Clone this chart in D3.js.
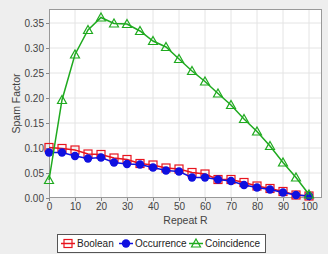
<!DOCTYPE html>
<html>
<head>
<meta charset="utf-8">
<script src="https://cdn.jsdelivr.net/npm/d3@7"></script>
<style>
  html, body { margin: 0; padding: 0; background: #eeeeee; }
  svg { display: block; font-family: "Liberation Sans", Arial, sans-serif; }
</style>
</head>
<body>
<div id="chart"></div>
<script>
const repeatR = [0, 5, 10, 15, 20, 25, 30, 35, 40, 45, 50, 55, 60, 65, 70, 75, 80, 85, 90, 95, 100];
const booleanVals = [0.101, 0.099, 0.096, 0.088, 0.087, 0.080, 0.077, 0.069, 0.066, 0.060, 0.058, 0.051, 0.048, 0.037, 0.037, 0.031, 0.024, 0.019, 0.013, 0.006, 0.004];
const occurrenceVals = [0.091, 0.091, 0.084, 0.079, 0.081, 0.071, 0.068, 0.067, 0.061, 0.055, 0.053, 0.041, 0.041, 0.037, 0.034, 0.026, 0.021, 0.017, 0.011, 0.006, 0.004];
const coincidenceVals = [0.036, 0.196, 0.287, 0.336, 0.361, 0.349, 0.348, 0.334, 0.314, 0.302, 0.278, 0.254, 0.233, 0.209, 0.186, 0.158, 0.133, 0.104, 0.071, 0.041, 0.007];
const xTicks = [0, 10, 20, 30, 40, 50, 60, 70, 80, 90, 100];
const yTicks = [0, 0.05, 0.10, 0.15, 0.20, 0.25, 0.30, 0.35];

const series = [
  { name: 'Boolean', values: booleanVals, color: '#e8141e', shape: 'square' },
  { name: 'Occurrence', values: occurrenceVals, color: '#1010e0', shape: 'circle' },
  { name: 'Coincidence', values: coincidenceVals, color: '#1faa1f', shape: 'triangle' },
];

const width = 328, height = 254;
const plot = { left: 49, right: 322, top: 9, bottom: 198 };

const svg = d3.select('#chart').append('svg')
  .attr('width', width)
  .attr('height', height);

svg.append('rect').attr('width', width).attr('height', height).attr('fill', '#eeeeee');

const x = d3.scaleLinear().domain([0, 105]).range([plot.left, plot.right]);
const y = d3.scaleLinear().domain([0, 0.378]).range([plot.bottom, plot.top]);

// plot background
svg.append('rect')
  .attr('x', plot.left).attr('y', plot.top)
  .attr('width', plot.right - plot.left).attr('height', plot.bottom - plot.top)
  .attr('fill', '#ffffff');

// gridlines
svg.append('g').selectAll('line')
  .data(xTicks.slice(1))
  .enter().append('line')
  .attr('x1', d => x(d)).attr('x2', d => x(d))
  .attr('y1', plot.top).attr('y2', plot.bottom)
  .attr('stroke', '#e4e4e4');
svg.append('g').selectAll('line')
  .data(yTicks.slice(1))
  .enter().append('line')
  .attr('x1', plot.left).attr('x2', plot.right)
  .attr('y1', d => y(d)).attr('y2', d => y(d))
  .attr('stroke', '#e4e4e4');

// axes
const xAxis = svg.append('g')
  .attr('transform', `translate(0,${plot.bottom})`)
  .call(d3.axisBottom(x).tickValues(xTicks).tickSize(3).tickPadding(2).tickFormat(d3.format('d')));
const yAxis = svg.append('g')
  .attr('transform', `translate(${plot.left},0)`)
  .call(d3.axisLeft(y).tickValues(yTicks).tickSize(3).tickPadding(2).tickFormat(d3.format('.2f')));
[xAxis, yAxis].forEach(a => {
  a.select('.domain').remove();
  a.selectAll('.tick line').attr('stroke', '#888888');
  a.selectAll('.tick text').attr('fill', '#444444')
    .style('font-family', '"Liberation Sans", Arial, sans-serif')
    .style('font-size', '10px');
});

// plot border
svg.append('rect')
  .attr('x', plot.left + 0.5).attr('y', plot.top + 0.5)
  .attr('width', plot.right - plot.left - 1).attr('height', plot.bottom - plot.top - 1)
  .attr('fill', 'none').attr('stroke', '#999999');

const line = d3.line()
  .x((d, i) => x(repeatR[i]))
  .y(d => y(d));

function drawMarker(g, shape, color, cx, cy) {
  if (shape === 'square') {
    g.append('rect').attr('x', cx - 4).attr('y', cy - 4).attr('width', 8).attr('height', 8)
      .attr('fill', 'none').attr('stroke', color).attr('stroke-width', 1.2);
  } else if (shape === 'circle') {
    g.append('circle').attr('cx', cx).attr('cy', cy).attr('r', 4.2).attr('fill', color);
  } else {
    g.append('path')
      .attr('d', `M${cx},${cy - 4.5}L${cx + 4.5},${cy + 3.5}L${cx - 4.5},${cy + 3.5}Z`)
      .attr('fill', 'none').attr('stroke', color).attr('stroke-width', 1.2);
  }
}

series.forEach(s => {
  const g = svg.append('g');
  g.append('path')
    .datum(s.values)
    .attr('d', line)
    .attr('fill', 'none')
    .attr('stroke', s.color)
    .attr('stroke-width', 1.5);
  s.values.forEach((v, i) => drawMarker(g, s.shape, s.color, x(repeatR[i]), y(v)));
});

// axis labels
svg.append('text')
  .attr('x', (plot.left + plot.right) / 2).attr('y', 224)
  .attr('text-anchor', 'middle')
  .attr('fill', '#444444')
  .style('font-size', '10.5px')
  .text('Repeat R');
svg.append('text')
  .attr('transform', `translate(20,${(plot.top + plot.bottom) / 2}) rotate(-90)`)
  .attr('text-anchor', 'middle')
  .attr('fill', '#444444')
  .style('font-size', '10.5px')
  .text('Spam Factor');

// legend
const legend = svg.append('g');
legend.append('rect')
  .attr('x', 57.5).attr('y', 234.5).attr('width', 208).attr('height', 18)
  .attr('fill', '#ffffff').attr('stroke', '#555555');
const legendX = [61, 119, 189];
series.forEach((s, i) => {
  const lx = legendX[i];
  const ly = 243.5;
  legend.append('line')
    .attr('x1', lx).attr('x2', lx + 14).attr('y1', ly).attr('y2', ly)
    .attr('stroke', s.color).attr('stroke-width', 1.5);
  drawMarker(legend, s.shape, s.color, lx + 7, ly);
  legend.append('text')
    .attr('x', lx + 16).attr('y', ly + 3.5)
    .attr('fill', '#222222')
    .style('font-size', '10px')
    .text(s.name);
});
</script>
</body>
</html>
